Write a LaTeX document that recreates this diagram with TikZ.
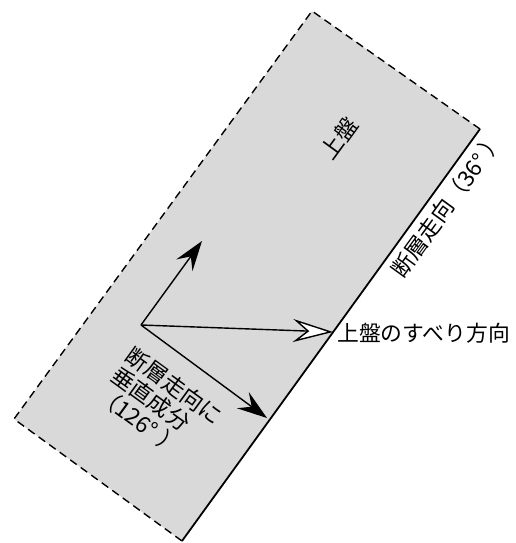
\documentclass[tikz,border=0pt]{standalone}
\usepackage{fontspec}
\newfontfamily\jp{Noto Sans CJK JP}
\usetikzlibrary{arrows.meta}
\definecolor{platefill}{RGB}{217,217,217}
\tikzset{
  plateedge/.style={line width=1.4pt, dash pattern=on 8pt off 5pt},
  faultline/.style={line width=1.8pt},
  vec/.style={line width=1.4pt, -{Stealth[length=30pt,width=20pt,inset=11pt]}},
  openvec/.style={line width=1.4pt, -{Stealth[length=40pt,width=23pt,inset=14pt,fill=white]}},
  lab/.style={font=\jp\fontsize{22.5}{24.5}\selectfont, inner sep=0pt},
  hlab/.style={font=\jp\fontsize{21.8}{24}\selectfont, inner sep=0pt}
}
\begin{document}
\begin{tikzpicture}[x=1pt,y=-1pt]
\useasboundingbox (0,0) rectangle (516,543);
\coordinate (T) at (312,11);
\coordinate (R) at (480,129);
\coordinate (B) at (182,541);
\coordinate (L) at (14,419);
\fill[platefill] (T)--(R)--(B)--(L)--cycle;
\draw[plateedge] (R)--(T)--(L)--(B);
\draw[faultline] (R)--(B);
\coordinate (O) at (141,325);
\coordinate (U) at (202,241);
\coordinate (D) at (267,418);
\coordinate (S) at (333,332);
\draw[vec] (O)--(U);
\draw[vec] (O)--(D);
\draw[openvec] (O)--(S);
\node[hlab, anchor=west] (slip) at (337,333) {上盤のすべり方向};
\node[lab, rotate=54] (hw) at (339,138) {上盤};
\node[lab, rotate=54, anchor=south west] (strike) at (405,281) {断層走向（36°\hspace{0.2em}）};
\node[lab, rotate=-36, anchor=north west, align=left] (perp) at (135,344) {断層走向に\\垂直成分\\（126°\hspace{0.3em}）};
\end{tikzpicture}
\end{document}
